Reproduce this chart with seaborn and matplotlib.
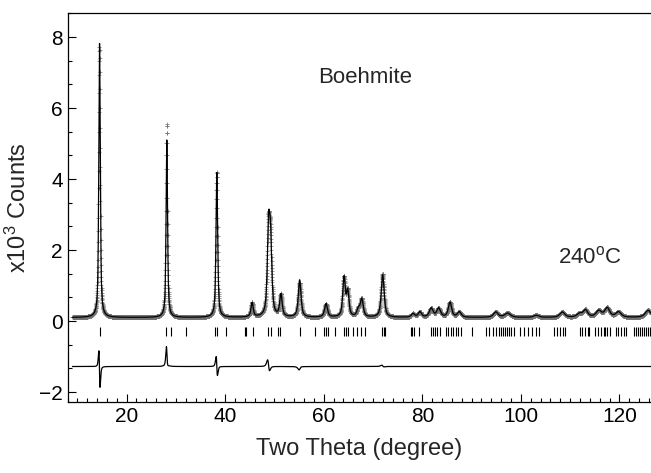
import numpy as np
import pandas as pd
import matplotlib
matplotlib.use("Agg")
import matplotlib.pyplot as plt
from matplotlib.ticker import MultipleLocator
import seaborn as sns

# ---------------- data ----------------
# calculated (refined) peak list: position (deg 2theta), height (x10^3 counts above background), FWHM (deg)
peak_pos = [14.50, 28.15, 38.30, 45.45, 48.80, 49.20, 51.30, 55.10, 60.45, 64.10, 64.85,
            67.00, 67.70, 71.95, 78.10, 79.50, 81.80, 83.30, 85.60, 87.50, 94.90, 97.30,
            103.10, 108.40, 111.90, 113.10, 115.80, 117.50, 119.80, 125.80]
calc_height = [7.72, 5.00, 4.08, 0.40, 2.30, 1.90, 0.62, 1.05, 0.38, 1.10, 0.70,
               0.20, 0.50, 1.20, 0.10, 0.15, 0.25, 0.25, 0.42, 0.15, 0.15, 0.12,
               0.06, 0.15, 0.10, 0.20, 0.18, 0.26, 0.15, 0.20]
peak_fwhm = [0.35, 0.35, 0.40, 0.55, 0.60, 0.60, 0.60, 0.65, 0.70, 0.60, 0.60,
             0.70, 0.70, 0.70, 0.80, 0.80, 0.90, 0.90, 0.80, 0.90, 1.10, 1.40,
             1.20, 1.20, 1.20, 1.10, 1.30, 1.20, 1.30, 1.40]
# observed peaks: height and small position offset relative to the calculated ones
obs_height = [7.62, 5.45, 4.10, 0.40, 2.35, 1.90, 0.62, 0.97, 0.38, 1.10, 0.70,
              0.20, 0.50, 1.22, 0.10, 0.15, 0.25, 0.25, 0.42, 0.15, 0.15, 0.12,
              0.06, 0.15, 0.10, 0.20, 0.18, 0.26, 0.15, 0.20]
obs_shift = [-0.018, -0.010, -0.020, 0.0, -0.030, 0.0, 0.0, 0.015, 0.0, 0.0, 0.0,
             0.0, 0.0, -0.010, 0.0, 0.0, 0.0, 0.0, 0.0, 0.0, 0.0, 0.0,
             0.0, 0.0, 0.0, 0.0, 0.0, 0.0, 0.0, 0.0]
background = 0.10
diff_offset = -1.28

# Bragg reflection positions (tick row)
bragg_pos = [14.6, 28.05, 28.98, 32.0, 37.9, 38.25, 40.1, 44.0, 44.3, 45.6, 48.7, 49.2,
             50.75, 51.2, 55.15, 58.2, 60.0, 60.4, 60.8, 62.25, 64.1, 64.6, 65.0, 66.0,
             66.65, 67.5, 68.3, 71.9, 72.2, 72.5, 77.8, 78.0, 78.4, 79.3, 81.7, 82.1,
             82.6, 83.05, 83.5, 84.9, 85.3, 85.8, 86.3, 86.8, 87.3, 87.8, 90.0, 92.9,
             93.6, 94.3, 94.9, 95.5, 96.0, 96.4, 96.8, 97.2, 97.6, 98.0, 98.5, 99.9,
             100.6, 101.4, 102.2, 103.0, 103.7, 106.8, 107.4, 108.0, 108.6, 109.0,
             111.9, 112.4, 113.0, 113.6, 113.9, 115.1, 115.6, 116.3, 116.8, 117.1,
             117.5, 118.0, 119.3, 119.7, 120.4, 121.0, 121.4, 122.9, 123.3, 123.7,
             124.1, 124.5, 124.9, 125.3, 125.7, 126.1]

x_ticks = [20, 40, 60, 80, 100, 120]
y_ticks = [-2, 0, 2, 4, 6, 8]


def pseudo_voigt(x, pos, hgt, fwhm, eta=0.7):
    y = np.full_like(x, background)
    for p, h, w in zip(pos, hgt, fwhm):
        g = 0.5 * w
        u = (x - p) / g
        y += h * (eta / (1.0 + u ** 2) + (1 - eta) * np.exp(-np.log(2) * u ** 2))
    return y


two_theta = np.arange(9.0, 126.5, 0.01)
calc = pseudo_voigt(two_theta, peak_pos, calc_height, peak_fwhm)
obs_pos = [p + s for p, s in zip(peak_pos, obs_shift)]
obs = pseudo_voigt(two_theta, obs_pos, obs_height, peak_fwhm)

df = pd.DataFrame({"two_theta": two_theta, "calc": calc, "obs": obs,
                   "diff": obs - calc + diff_offset})
df_obs = df.iloc[::2]

# ---------------- figure ----------------
sns.set_style("ticks")
plt.rcParams["font.family"] = ["Liberation Sans", "DejaVu Sans"]
plt.rcParams["mathtext.fontset"] = "custom"
plt.rcParams["mathtext.rm"] = "Liberation Sans"
plt.rcParams["mathtext.it"] = "Liberation Sans:italic"

fig = plt.figure(figsize=(6.51, 4.73), dpi=100)
ax = fig.add_axes([67.5 / 651, 1 - 402 / 473, (651 - 67.5) / 651, (402 - 13) / 473])

sns.scatterplot(data=df_obs, x="two_theta", y="obs", ax=ax, marker="+", s=6,
                color="0.45", linewidth=0.5, legend=False, zorder=2)
sns.lineplot(data=df, x="two_theta", y="calc", ax=ax, color="black", lw=0.9,
             estimator=None, sort=False, zorder=3)
sns.lineplot(data=df, x="two_theta", y="diff", ax=ax, color="black", lw=0.9,
             estimator=None, sort=False, zorder=3)
ax.vlines(bragg_pos, -0.42, -0.17, color="black", lw=0.8)

ax.set_xlim(8, 126.4)
ax.set_ylim(-2.28, 8.68)
ax.set_xticks(x_ticks)
ax.set_yticks(y_ticks)
ax.xaxis.set_minor_locator(MultipleLocator(2))
ax.yaxis.set_minor_locator(MultipleLocator(2 / 3))
ax.tick_params(which="both", direction="in", top=False, right=False, width=0.8,
               labelsize=15, colors="black")
ax.tick_params(which="major", length=5.5)
ax.tick_params(which="minor", length=3)
ax.spines["right"].set_visible(False)
for s in ("left", "bottom", "top"):
    ax.spines[s].set_linewidth(0.9)
    ax.spines[s].set_color("black")

ax.set_xlabel("Two Theta (degree)", fontsize=17, labelpad=9)
ax.set_ylabel(r"x10$\mathregular{^3}$ Counts", fontsize=17, labelpad=6)

ax.text(58.8, 6.87, "Boehmite", fontsize=16, ha="left", va="center")
ax.text(107.5, 1.8, r"240$\mathregular{^o}$C", fontsize=16, ha="left", va="center")

fig.savefig("out.png", dpi=100)
